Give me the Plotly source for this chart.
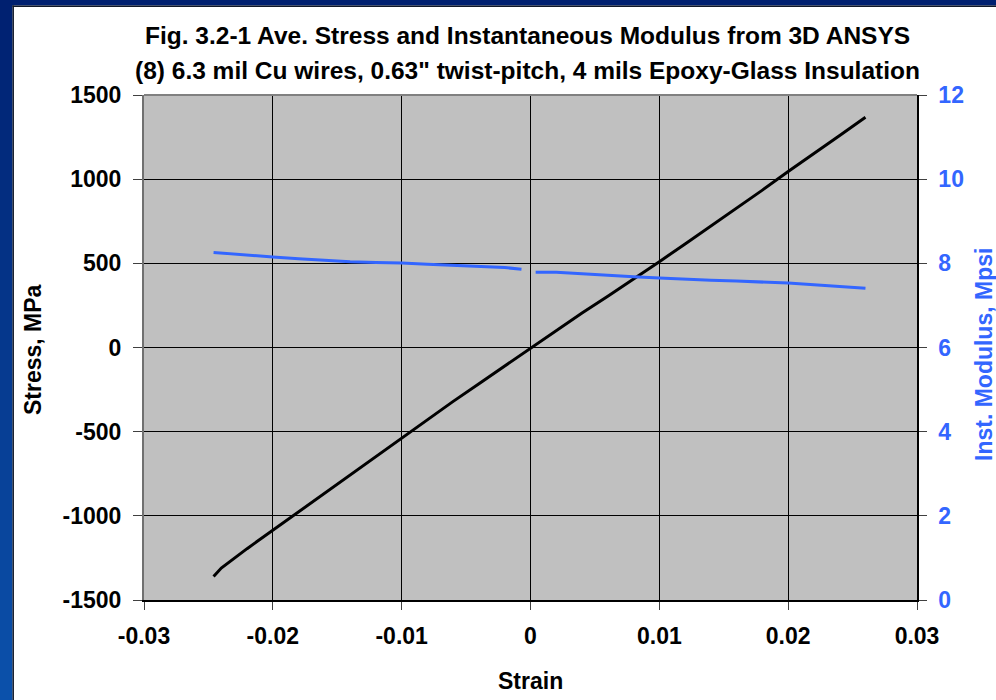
import plotly.graph_objects as go

# ---------------- data ----------------
strain_s = [-0.0246, -0.024, -0.022, -0.020, -0.018, -0.016, -0.014, -0.012, -0.010,
            -0.008, -0.006, -0.004, -0.002, 0.0, 0.002, 0.004, 0.006, 0.008, 0.010,
            0.012, 0.014, 0.016, 0.018, 0.020, 0.022, 0.024, 0.026]
stress_mpa = [-1360, -1310, -1195, -1085, -975, -865, -755, -645, -535,
              -428, -320, -215, -110, 0, 105, 205, 305, 405, 510,
              615, 720, 825, 935, 1045, 1150, 1260, 1368]

strain_m = [-0.0246, -0.022, -0.020, -0.018, -0.016, -0.014, -0.012, -0.010, -0.008,
            -0.006, -0.004, -0.003, -0.002, -0.0007, None, 0.0004, 0.002, 0.003,
            0.004, 0.006, 0.008, 0.010, 0.012, 0.014, 0.016, 0.018, 0.020, 0.022,
            0.024, 0.026]
modulus_mpsi = [8.26, 8.19, 8.15, 8.11, 8.07, 8.04, 8.02, 8.01, 7.98,
                7.95, 7.92, 7.90, 7.90, 7.86, None, 7.79, 7.79, 7.77,
                7.75, 7.71, 7.68, 7.65, 7.62, 7.60, 7.58, 7.56, 7.53, 7.49,
                7.45, 7.41]

x_ticks = [-0.03, -0.02, -0.01, 0, 0.01, 0.02, 0.03]
x_ticktext = ["-0.03", "-0.02", "-0.01", "0", "0.01", "0.02", "0.03"]
y_ticks = [-1500, -1000, -500, 0, 500, 1000, 1500]
y_ticktext = ["-1500", "-1000", "-500", "0", "500", "1000", "1500"]
y2_ticks = [0, 2, 4, 6, 8, 10, 12]
y2_ticktext = ["0", "2", "4", "6", "8", "10", "12"]

title1 = "Fig. 3.2-1 Ave. Stress and Instantaneous Modulus from 3D ANSYS"
title2 = "(8) 6.3 mil Cu wires, 0.63\" twist-pitch, 4 mils Epoxy-Glass Insulation"

# ---------------- geometry helpers ----------------
W, H = 996, 700
L, R, T, B = 144, 79, 95, 100
PW, PH = W - L - R, H - T - B


def px(x):
    return (x - L) / PW


def py(y):
    return (H - B - y) / PH


FONT = "Liberation Sans, Arial, sans-serif"
BLUE = "#3366FF"

fig = go.Figure()
fig.add_trace(go.Scatter(x=strain_s, y=stress_mpa, mode="lines",
                         line=dict(color="black", width=3), yaxis="y",
                         showlegend=False, hoverinfo="skip"))
fig.add_trace(go.Scatter(x=strain_m, y=modulus_mpsi, mode="lines",
                         line=dict(color=BLUE, width=3), yaxis="y2",
                         connectgaps=False, showlegend=False, hoverinfo="skip"))

# background frame: navy gradient strips at top and left
shapes = []
n = 70
for i in range(n):
    y0 = i * H / n
    y1 = (i + 1) * H / n
    t = (y0 + y1) / 2 / H
    r = int(0 + 12 * t)
    g = int(32 + 50 * t)
    b = int(112 + 60 * t)
    shapes.append(dict(type="rect", xref="paper", yref="paper",
                       x0=px(0), x1=px(12.5), y0=py(y1), y1=py(y0),
                       fillcolor=f"rgb({r},{g},{b})", line=dict(width=0), layer="below"))
shapes.append(dict(type="rect", xref="paper", yref="paper",
                   x0=px(0), x1=px(W), y0=py(5.5), y1=py(0),
                   fillcolor="rgb(0,32,112)", line=dict(width=0), layer="below"))
shapes.append(dict(type="line", xref="paper", yref="paper",
                   x0=px(13.2), x1=px(13.2), y0=py(H), y1=py(5.5),
                   line=dict(color="#101828", width=1.5), layer="below"))
shapes.append(dict(type="line", xref="paper", yref="paper",
                   x0=px(12.5), x1=px(W), y0=py(6.2), y1=py(6.2),
                   line=dict(color="#101828", width=1.5), layer="below"))
# top border of plot area (gray)
shapes.append(dict(type="line", xref="paper", yref="paper",
                   x0=0, x1=1, y0=1, y1=1,
                   line=dict(color="#808080", width=2), layer="above"))

annotations = [
    dict(text=f"<b>{title1}</b>", xref="paper", yref="paper", x=px(527), y=py(36),
         xanchor="center", yanchor="middle", showarrow=False,
         font=dict(family=FONT, size=24.5, color="black")),
    dict(text=f"<b>{title2}</b>", xref="paper", yref="paper", x=px(527), y=py(71),
         xanchor="center", yanchor="middle", showarrow=False,
         font=dict(family=FONT, size=24.5, color="black")),
    dict(text="<b>Strain</b>", xref="paper", yref="paper", x=px(530), y=py(681),
         xanchor="center", yanchor="middle", showarrow=False,
         font=dict(family=FONT, size=23, color="black")),
    dict(text="<b>Stress, MPa</b>", xref="paper", yref="paper", x=px(33), y=py(350),
         xanchor="center", yanchor="middle", showarrow=False, textangle=-90,
         font=dict(family=FONT, size=23, color="black")),
    dict(text="<b>Inst. Modulus, Mpsi</b>", xref="paper", yref="paper", x=px(984), y=py(355),
         xanchor="center", yanchor="middle", showarrow=False, textangle=-90,
         font=dict(family=FONT, size=23, color=BLUE)),
]

fig.update_layout(
    width=W, height=H,
    margin=dict(l=L, r=R, t=T, b=B, pad=0),
    paper_bgcolor="white",
    plot_bgcolor="#C0C0C0",
    showlegend=False,
    shapes=shapes,
    annotations=annotations,
    xaxis=dict(range=[-0.03, 0.03], tickvals=x_ticks, ticktext=x_ticktext,
               showgrid=True, gridcolor="black", gridwidth=1,
               zeroline=True, zerolinecolor="black", zerolinewidth=1,
               showline=True, linecolor="black", linewidth=1.5,
               ticks="outside", ticklen=8, tickcolor="#404040",
               tickfont=dict(family=FONT, size=23, color="black", weight="bold"),
               ticklabelstandoff=7, fixedrange=True),
    yaxis=dict(range=[-1500, 1500], tickvals=y_ticks, ticktext=y_ticktext,
               showgrid=True, gridcolor="black", gridwidth=1,
               zeroline=True, zerolinecolor="black", zerolinewidth=1,
               showline=True, linecolor="#707070", linewidth=2,
               ticks="outside", ticklen=9, tickcolor="#404040",
               tickfont=dict(family=FONT, size=23, color="black", weight="bold"),
               ticklabelstandoff=7, fixedrange=True),
    yaxis2=dict(range=[0, 12], tickvals=y2_ticks, ticktext=y2_ticktext,
                overlaying="y", side="right",
                showgrid=False, zeroline=False,
                showline=True, linecolor="black", linewidth=1.5,
                ticks="outside", ticklen=8, tickcolor="#404040",
                tickfont=dict(family=FONT, size=23, color=BLUE, weight="bold"),
                ticklabelstandoff=7, fixedrange=True),
)

fig.write_html("out.html", config={"displayModeBar": False},
               post_script="document.body.style.margin='0';document.body.style.padding='0';"
                           "document.documentElement.style.overflow='hidden';")
